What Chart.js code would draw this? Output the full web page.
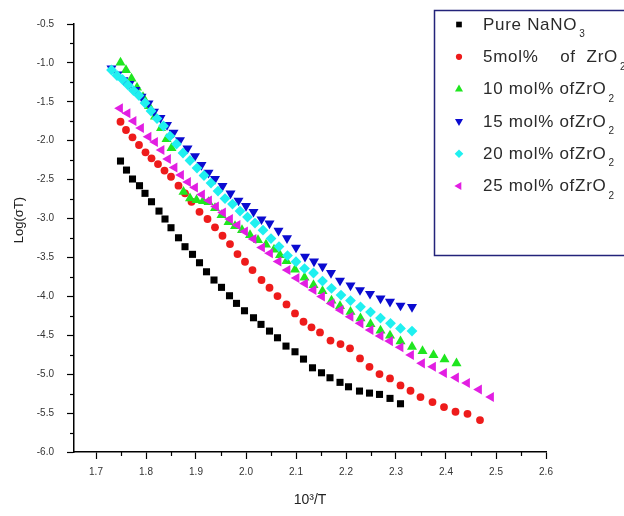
<!DOCTYPE html>
<html><head><meta charset="utf-8">
<script src="https://cdn.jsdelivr.net/npm/chart.js@4.4.1/dist/chart.umd.min.js"></script>
<style>html,body{margin:0;padding:0;background:#fff}</style>
</head><body>
<canvas id="c" width="624" height="516"></canvas>
<script>
// ---------- data ----------
const legendMain = ['Pure NaNO', '5mol%    of  ZrO', '10 mol% ofZrO', '15 mol% ofZrO', '20 mol% ofZrO', '25 mol% ofZrO'];
const legendSub = ['3', '2', '2', '2', '2', '2'];
const xTitle = '10³/T';
const yTitle = 'Log(σT)';

const pureX = [1.749,1.761,1.773,1.787,1.798,1.811,1.826,1.838,1.850,1.865,1.878,1.893,1.907,1.921,1.936,1.951,1.967,1.981,1.997,2.015,2.030,2.047,2.063,2.080,2.098,2.115,2.133,2.151,2.168,2.188,2.205,2.227,2.247,2.267,2.288,2.309];
const pureY = [-2.261,-2.377,-2.492,-2.578,-2.676,-2.784,-2.904,-3.006,-3.118,-3.247,-3.362,-3.460,-3.568,-3.684,-3.790,-3.884,-3.992,-4.090,-4.185,-4.275,-4.360,-4.446,-4.532,-4.639,-4.712,-4.806,-4.918,-4.982,-5.046,-5.105,-5.162,-5.217,-5.243,-5.260,-5.311,-5.380];

const zr5X = [1.749,1.760,1.773,1.786,1.799,1.811,1.824,1.837,1.850,1.865,1.878,1.891,1.907,1.923,1.938,1.953,1.968,1.983,1.998,2.013,2.031,2.047,2.063,2.081,2.098,2.115,2.131,2.148,2.169,2.189,2.208,2.228,2.247,2.267,2.288,2.309,2.329,2.349,2.373,2.396,2.419,2.443,2.468];
const zr5Y = [-1.756,-1.862,-1.956,-2.055,-2.149,-2.226,-2.300,-2.383,-2.463,-2.578,-2.676,-2.784,-2.913,-3.006,-3.113,-3.221,-3.328,-3.456,-3.555,-3.662,-3.790,-3.889,-3.996,-4.103,-4.219,-4.326,-4.398,-4.463,-4.568,-4.613,-4.668,-4.797,-4.905,-4.999,-5.054,-5.144,-5.213,-5.294,-5.359,-5.423,-5.483,-5.509,-5.590];

const zr10X = [1.749,1.760,1.771,1.782,1.794,1.806,1.818,1.830,1.841,1.851,1.875,1.888,1.901,1.914,1.925,1.938,1.951,1.965,1.978,1.992,2.008,2.024,2.040,2.056,2.068,2.081,2.098,2.117,2.135,2.153,2.171,2.188,2.209,2.229,2.249,2.269,2.288,2.309,2.332,2.353,2.375,2.397,2.421];
const zr10Y = [-0.995,-1.091,-1.201,-1.316,-1.438,-1.554,-1.689,-1.837,-1.978,-2.094,-2.656,-2.740,-2.762,-2.775,-2.788,-2.865,-2.955,-3.045,-3.096,-3.148,-3.212,-3.276,-3.334,-3.398,-3.469,-3.546,-3.656,-3.758,-3.855,-3.932,-4.054,-4.125,-4.198,-4.283,-4.356,-4.440,-4.504,-4.578,-4.648,-4.703,-4.755,-4.809,-4.861];

const zr15X = [1.731,1.743,1.755,1.767,1.779,1.791,1.805,1.816,1.829,1.842,1.855,1.868,1.883,1.898,1.911,1.925,1.938,1.953,1.969,1.985,2.000,2.015,2.031,2.047,2.065,2.082,2.100,2.118,2.136,2.153,2.170,2.188,2.209,2.228,2.248,2.269,2.288,2.309,2.332];
const zr15Y = [-1.069,-1.149,-1.220,-1.271,-1.348,-1.434,-1.519,-1.625,-1.708,-1.798,-1.895,-1.991,-2.098,-2.197,-2.312,-2.411,-2.492,-2.582,-2.676,-2.769,-2.839,-2.913,-3.010,-3.062,-3.157,-3.251,-3.373,-3.491,-3.550,-3.614,-3.700,-3.797,-3.859,-3.919,-3.967,-4.026,-4.069,-4.118,-4.137];

const zr20X = [1.731,1.742,1.753,1.764,1.775,1.786,1.798,1.810,1.822,1.835,1.848,1.861,1.874,1.888,1.902,1.916,1.930,1.944,1.958,1.973,1.988,2.003,2.018,2.034,2.050,2.066,2.083,2.100,2.117,2.135,2.153,2.171,2.190,2.209,2.229,2.249,2.269,2.289,2.309,2.332];
const zr20Y = [-1.091,-1.162,-1.213,-1.284,-1.355,-1.419,-1.515,-1.618,-1.715,-1.811,-1.940,-2.042,-2.158,-2.254,-2.351,-2.447,-2.544,-2.647,-2.743,-2.814,-2.904,-2.981,-3.058,-3.149,-3.258,-3.360,-3.476,-3.555,-3.643,-3.700,-3.803,-3.897,-3.983,-4.054,-4.134,-4.202,-4.279,-4.347,-4.412,-4.446];

const zr25X = [1.748,1.763,1.775,1.790,1.805,1.818,1.831,1.844,1.857,1.870,1.884,1.898,1.912,1.926,1.940,1.954,1.968,1.983,1.998,2.015,2.032,2.048,2.065,2.083,2.101,2.118,2.135,2.152,2.171,2.189,2.209,2.229,2.249,2.269,2.288,2.309,2.330,2.352,2.374,2.396,2.420,2.442,2.466,2.490];
const zr25Y = [-1.584,-1.648,-1.747,-1.837,-1.949,-2.017,-2.120,-2.235,-2.344,-2.441,-2.531,-2.602,-2.692,-2.769,-2.846,-2.923,-3.006,-3.084,-3.167,-3.263,-3.373,-3.447,-3.553,-3.662,-3.765,-3.835,-3.919,-4.003,-4.093,-4.176,-4.263,-4.347,-4.433,-4.508,-4.575,-4.654,-4.754,-4.861,-4.905,-4.986,-5.044,-5.114,-5.198,-5.294];

const seriesX = [pureX, zr5X, zr10X, zr15X, zr20X, zr25X];
const seriesY = [pureY, zr5Y, zr10Y, zr15Y, zr20Y, zr25Y];
const seriesColors = ['#000000', '#ee1b1b', '#1fe61f', '#0b0bd0', '#1ff0f0', '#e21ee2'];
const seriesStyles = ['rect', 'circle', 'triangle', 'triangle', 'rectRot', 'triangle'];
const seriesRot = [0, 0, 0, 180, 0, -90];
const seriesRadius = [5.0, 3.9, 5.8, 5.8, 5.4, 5.8];

const FONT = "'Liberation Sans', Arial, sans-serif";

const datasets = seriesX.map((xs, i) => ({
  label: legendMain[i] + legendSub[i],
  data: xs.map((x, k) => ({x: x, y: seriesY[i][k]})),
  backgroundColor: seriesColors[i],
  borderColor: seriesColors[i],
  borderWidth: 0,
  pointStyle: seriesStyles[i],
  rotation: seriesRot[i],
  pointRadius: seriesRadius[i],
  pointHoverRadius: seriesRadius[i],
  showLine: false,
  order: 5 - i
}));

function marker(ctx, style, rot, r, x, y) {
  const rad = rot * Math.PI / 180;
  ctx.beginPath();
  if (style === 'circle') {
    ctx.arc(x, y, r, 0, Math.PI * 2);
  } else if (style === 'rect') {
    const s = r * Math.SQRT1_2;
    ctx.rect(x - s, y - s, 2 * s, 2 * s);
  } else if (style === 'rectRot') {
    ctx.moveTo(x, y - r); ctx.lineTo(x + r, y); ctx.lineTo(x, y + r); ctx.lineTo(x - r, y);
    ctx.closePath();
  } else {
    let a = rad;
    ctx.moveTo(x + Math.sin(a) * r, y - Math.cos(a) * r);
    a += 2 * Math.PI / 3;
    ctx.lineTo(x + Math.sin(a) * r, y - Math.cos(a) * r);
    a += 2 * Math.PI / 3;
    ctx.lineTo(x + Math.sin(a) * r, y - Math.cos(a) * r);
    ctx.closePath();
  }
  ctx.fill();
}

const decor = {
  id: 'decor',
  afterDraw(chart) {
    const ctx = chart.ctx;
    const xs = chart.scales.x, ys = chart.scales.y;
    ctx.save();
    // minor ticks
    ctx.strokeStyle = '#000';
    ctx.lineWidth = 1.2;
    const xt = xs.ticks.map(t => t.value);
    for (let i = 0; i < xt.length - 1; i++) {
      const p = Math.round(xs.getPixelForValue((xt[i] + xt[i + 1]) / 2)) + 0.5;
      ctx.beginPath(); ctx.moveTo(p, xs.top); ctx.lineTo(p, xs.top + 4); ctx.stroke();
    }
    const yt = ys.ticks.map(t => t.value);
    for (let i = 0; i < yt.length - 1; i++) {
      const p = Math.round(ys.getPixelForValue((yt[i] + yt[i + 1]) / 2)) + 0.5;
      ctx.beginPath(); ctx.moveTo(ys.right, p); ctx.lineTo(ys.right - 4, p); ctx.stroke();
    }
    // y title
    ctx.fillStyle = '#222';
    ctx.font = '13px ' + FONT;
    ctx.textAlign = 'center';
    ctx.textBaseline = 'middle';
    ctx.translate(19, 220);
    ctx.rotate(-Math.PI / 2);
    ctx.fillText(yTitle, 0, 0);
    ctx.restore();

    // legend
    ctx.save();
    ctx.strokeStyle = '#23237a';
    ctx.lineWidth = 1.5;
    ctx.strokeRect(434.5, 10.5, 220, 245);
    for (let i = 0; i < legendMain.length; i++) {
      const y = 24.5 + i * 32.3;
      ctx.fillStyle = seriesColors[i];
      marker(ctx, seriesStyles[i], seriesRot[i], seriesRadius[i] * 0.8, 459, y);
      ctx.fillStyle = '#2a2a2a';
      ctx.font = '17px ' + FONT;
      ctx.letterSpacing = '0.7px';
      ctx.textAlign = 'left';
      ctx.textBaseline = 'middle';
      ctx.fillText(legendMain[i], 483, y + 0.5);
      const w = ctx.measureText(legendMain[i]).width;
      ctx.letterSpacing = '0px';
      ctx.font = '10px ' + FONT;
      ctx.fillText(legendSub[i], 483 + w + 2, y + 10);
    }
    ctx.restore();
  }
};

new Chart(document.getElementById('c'), {
  type: 'scatter',
  data: { datasets: datasets },
  options: {
    responsive: false,
    animation: false,
    devicePixelRatio: 1,
    layout: { padding: { left: 0, top: 24, right: 78, bottom: 0 } },
    plugins: { legend: { display: false }, tooltip: { enabled: false } },
    scales: {
      x: {
        type: 'linear', min: 1.656, max: 2.6,
        ticks: { stepSize: 0.1, includeBounds: false, autoSkip: false, maxRotation: 0,
                 callback: v => v.toFixed(1), font: { family: FONT, size: 10 }, color: '#333', padding: 7 },
        grid: { drawOnChartArea: false, tickLength: 7, tickColor: '#000', tickWidth: 1.2 },
        border: { color: '#000', width: 1.5 },
        title: { display: true, text: xTitle, font: { family: FONT, size: 14 }, color: '#222', padding: { top: 0, bottom: 7 } },
        afterFit(s) { s.height = 64; }
      },
      y: {
        type: 'linear', min: -6, max: -0.5,
        ticks: { stepSize: 0.5, autoSkip: false, callback: v => v.toFixed(1), font: { family: FONT, size: 10 }, color: '#333', padding: 13 },
        grid: { drawOnChartArea: false, tickLength: 7, tickColor: '#000', tickWidth: 1.2 },
        border: { color: '#000', width: 1.5 },
        title: { display: false },
        afterFit(s) { s.width = 74; }
      }
    }
  },
  plugins: [decor]
});
</script>
</body></html>
